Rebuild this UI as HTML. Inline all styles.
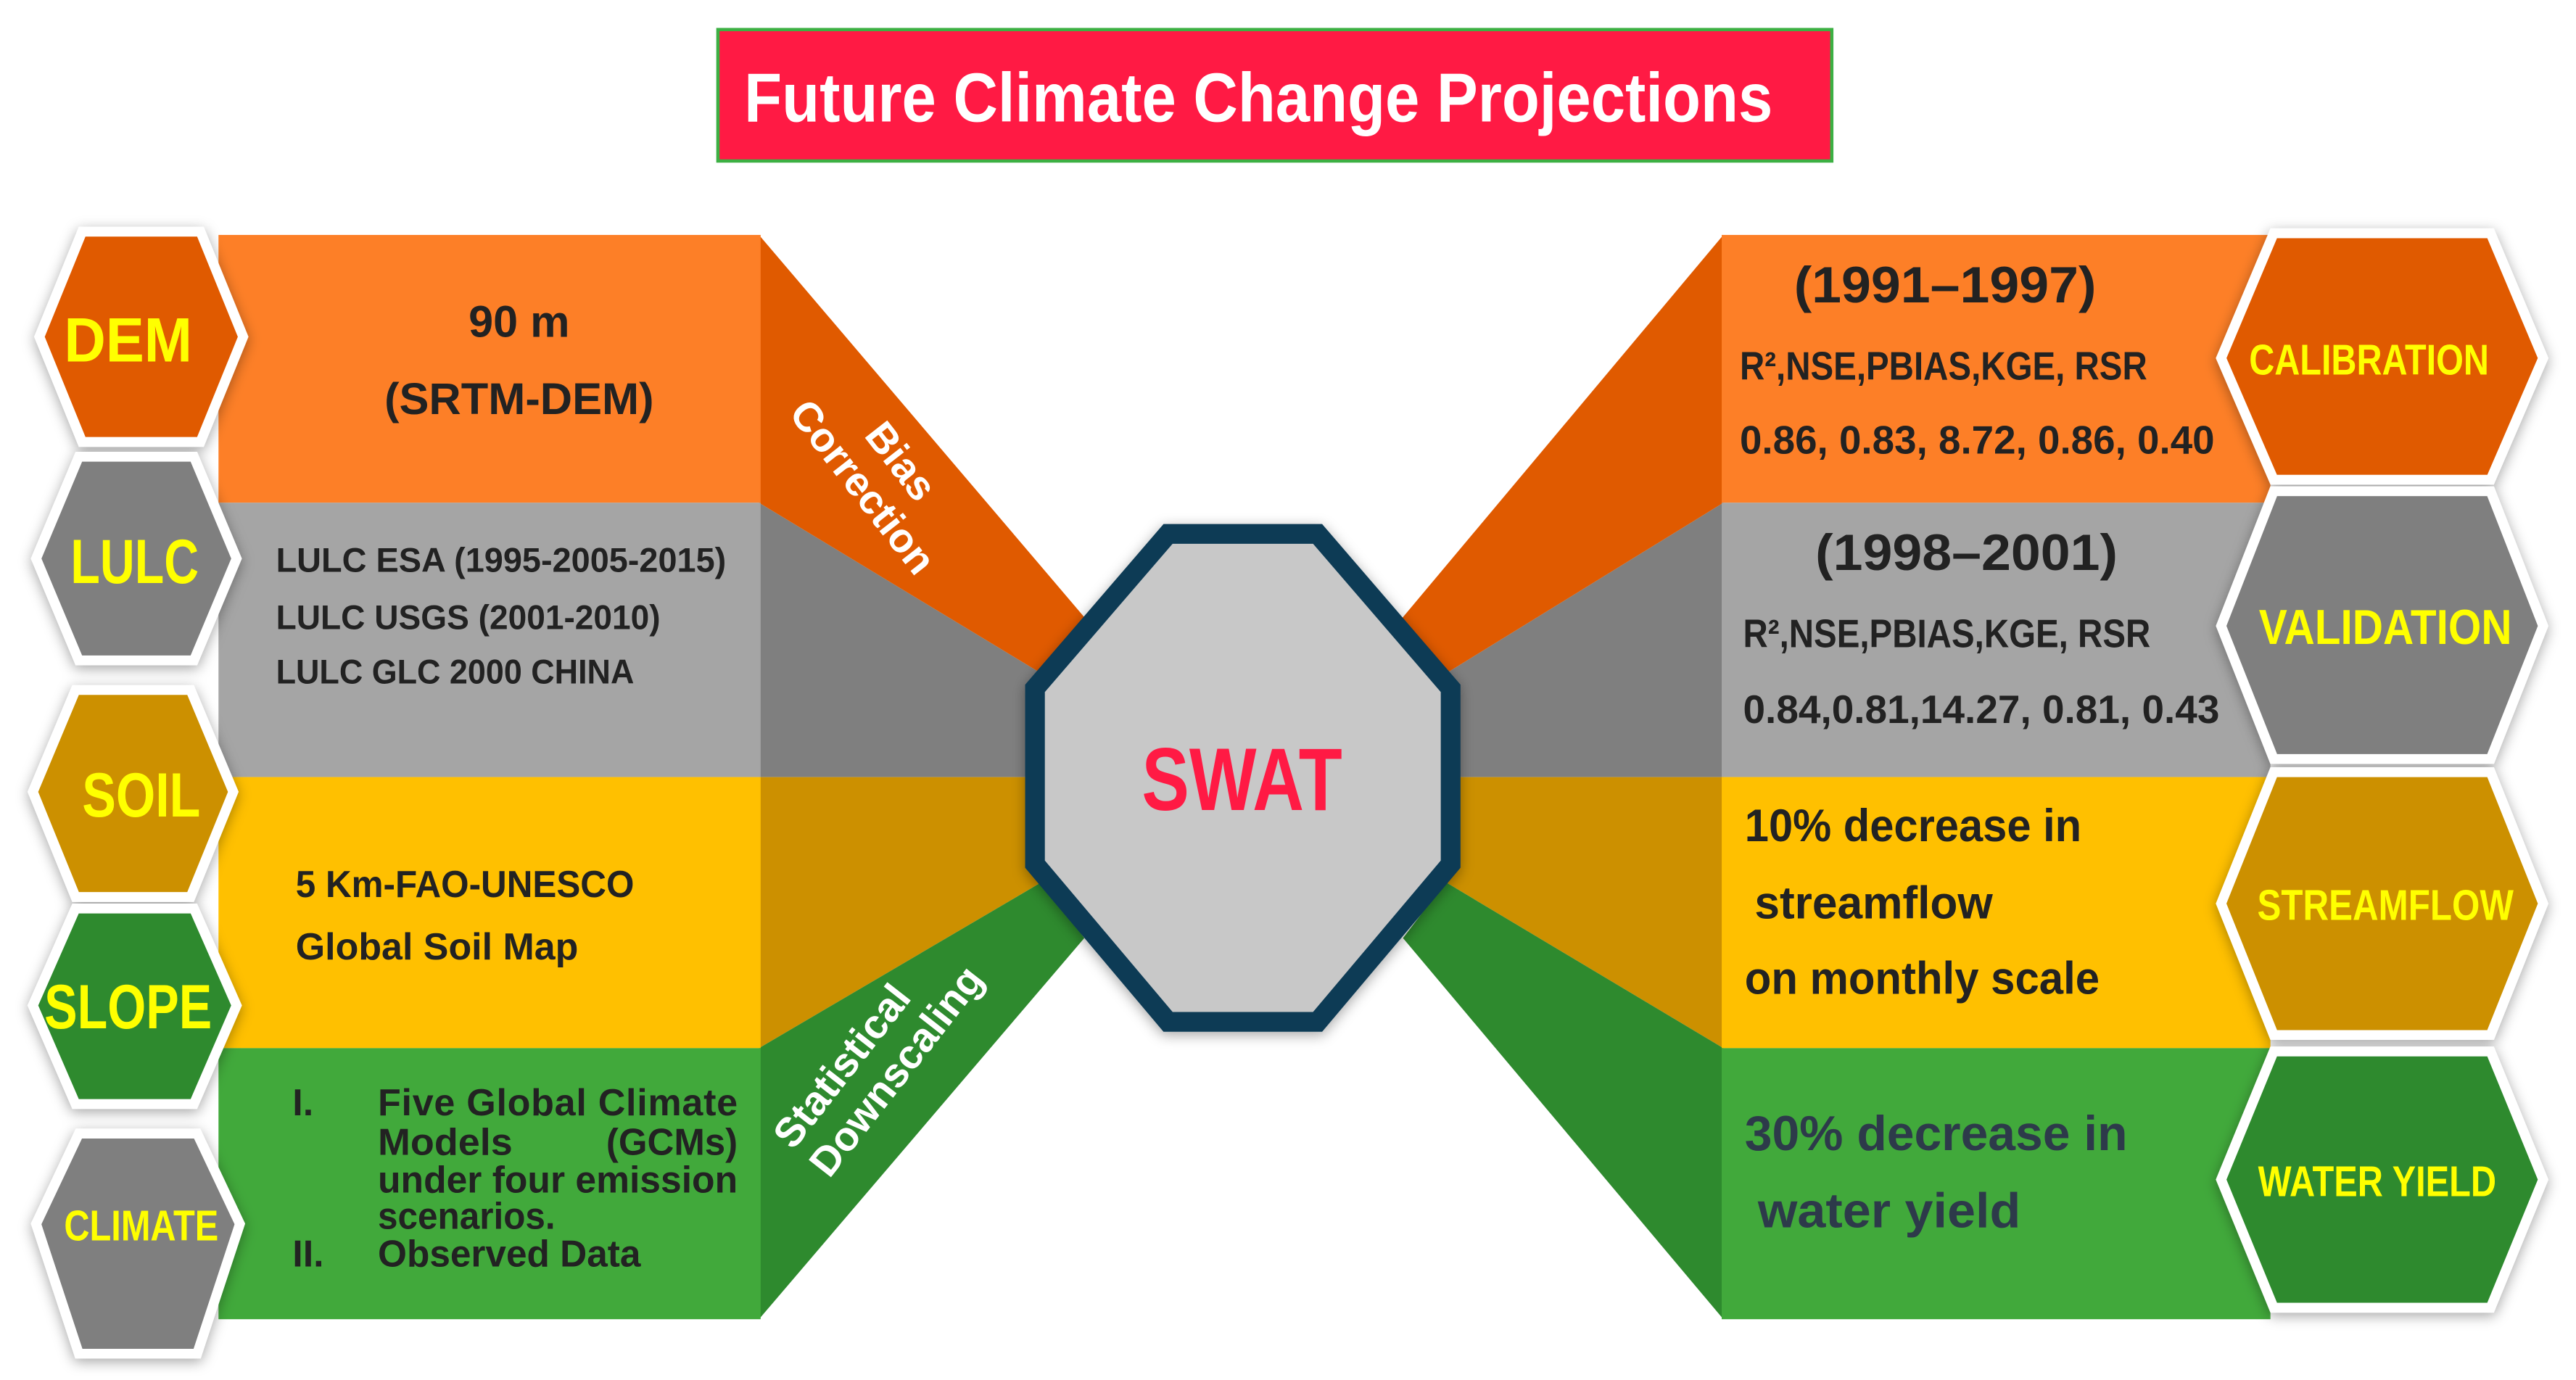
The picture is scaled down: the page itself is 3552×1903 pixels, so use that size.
<!DOCTYPE html>
<html><head><meta charset="utf-8"><style>
html,body{margin:0;padding:0;background:#fff;width:3552px;height:1903px;overflow:hidden}
svg{display:block}
text{font-family:"Liberation Sans Narrow","Liberation Sans",sans-serif;font-weight:bold}
</style></head><body>
<svg width="3552" height="1903" viewBox="0 0 1568 840" preserveAspectRatio="none">
<defs>
<filter id="sh" x="-20%" y="-20%" width="140%" height="140%"><feDropShadow dx="0" dy="2" stdDeviation="4" flood-color="#000" flood-opacity="0.35"/></filter>
</defs>
<g>
<rect x="437" y="18" width="678" height="80" fill="#ff1a44" stroke="#3cb043" stroke-width="2"/>
<text x="766" y="74" font-size="42" fill="#fff" text-anchor="middle" textLength="626" lengthAdjust="spacingAndGlyphs">Future Climate Change Projections</text>
</g>
<g>
<polygon points="462,306 634,410 640,473 462,473" fill="#7f7f7f"/>
<polygon points="462,143 662,378 634,410 462,306" fill="#e05a00"/>
<polygon points="462,473 640,473 634,537 462,638" fill="#cc9000"/>
<polygon points="462,638 634,537 660,571 462,803" fill="#2e8a2e"/>
</g>
<g>
<polygon points="1049,306 880,410 874,473 1049,473" fill="#7f7f7f"/>
<polygon points="1049,143 852,378 880,410 1049,306" fill="#e05a00"/>
<polygon points="1049,473 874,473 880,537 1049,638" fill="#cc9000"/>
<polygon points="1049,638 880,537 854,571 1049,803" fill="#2e8a2e"/>
</g>
<g>
<rect x="133" y="143" width="330" height="163" fill="#fd7f27"/>
<rect x="133" y="306" width="330" height="167" fill="#a5a5a5"/>
<rect x="133" y="473" width="330" height="165" fill="#ffc000"/>
<rect x="133" y="638" width="330" height="165" fill="#41a93b"/>
</g>
<g>
<rect x="1048" y="143" width="334" height="163" fill="#fd7f27"/>
<rect x="1048" y="306" width="334" height="167" fill="#a5a5a5"/>
<rect x="1048" y="473" width="334" height="165" fill="#ffc000"/>
<rect x="1048" y="638" width="334" height="165" fill="#41a93b"/>
</g>
<text font-size="25" fill="#fff" transform="rotate(52 540 300)"><tspan x="530" y="290" text-anchor="middle">Bias</tspan><tspan x="528" y="318" text-anchor="middle">Correction</tspan></text>
<text font-size="25" fill="#fff" transform="rotate(-52 535 650)"><tspan x="522" y="640" text-anchor="middle">Statistical</tspan><tspan x="540" y="668" text-anchor="middle">Downscaling</tspan></text>
<g filter="url(#sh)">
<polygon points="711,325 802,325 883,419 883,526 802,622 711,622 630,526 630,419" fill="#c8c8c8" stroke="#0c3a55" stroke-width="12" stroke-linejoin="miter"/>
</g>
<text x="756" y="493" font-size="54" fill="#ff1a44" text-anchor="middle" textLength="122" lengthAdjust="spacingAndGlyphs">SWAT</text>
<g fill="#222" font-size="27">
<text x="316" y="205" text-anchor="middle">90 m</text>
<text x="316" y="252" text-anchor="middle" textLength="164" lengthAdjust="spacingAndGlyphs">(SRTM-DEM)</text>
</g>
<g fill="#222" font-size="21">
<text x="168" y="348" textLength="274" lengthAdjust="spacingAndGlyphs">LULC ESA (1995-2005-2015)</text>
<text x="168" y="383" textLength="234" lengthAdjust="spacingAndGlyphs">LULC USGS (2001-2010)</text>
<text x="168" y="416" textLength="218" lengthAdjust="spacingAndGlyphs">LULC GLC 2000 CHINA</text>
</g>
<g fill="#222" font-size="23">
<text x="180" y="546" textLength="206" lengthAdjust="spacingAndGlyphs">5 Km-FAO-UNESCO</text>
<text x="180" y="584" textLength="172" lengthAdjust="spacingAndGlyphs">Global Soil Map</text>
</g>
<g fill="#222" font-size="23">
<text x="178" y="679">I.</text><text x="230" y="679" textLength="219" lengthAdjust="spacing">Five Global Climate</text>
<text x="230" y="703" textLength="82" lengthAdjust="spacingAndGlyphs">Models</text><text x="449" y="703" text-anchor="end" textLength="80" lengthAdjust="spacingAndGlyphs">(GCMs)</text>
<text x="230" y="726" textLength="219" lengthAdjust="spacingAndGlyphs">under four emission</text>
<text x="230" y="748" textLength="108" lengthAdjust="spacingAndGlyphs">scenarios.</text>
<text x="178" y="771">II.</text><text x="230" y="771" textLength="160" lengthAdjust="spacingAndGlyphs">Observed Data</text>
</g>
<g fill="#222">
<text x="1092" y="184" font-size="31" textLength="184" lengthAdjust="spacingAndGlyphs">(1991–1997)</text>
<text x="1059" y="231" font-size="24" textLength="248" lengthAdjust="spacingAndGlyphs">R²,NSE,PBIAS,KGE, RSR</text>
<text x="1059" y="276" font-size="24" textLength="289" lengthAdjust="spacingAndGlyphs">0.86, 0.83, 8.72, 0.86, 0.40</text>
</g>
<g fill="#222">
<text x="1105" y="347" font-size="31" textLength="184" lengthAdjust="spacingAndGlyphs">(1998–2001)</text>
<text x="1061" y="394" font-size="24" textLength="248" lengthAdjust="spacingAndGlyphs">R²,NSE,PBIAS,KGE, RSR</text>
<text x="1061" y="440" font-size="24" textLength="290" lengthAdjust="spacingAndGlyphs">0.84,0.81,14.27, 0.81, 0.43</text>
</g>
<g fill="#222" font-size="28">
<text x="1062" y="512" textLength="205" lengthAdjust="spacingAndGlyphs">10% decrease in</text>
<text x="1068" y="559" textLength="145" lengthAdjust="spacingAndGlyphs">streamflow</text>
<text x="1062" y="605" textLength="216" lengthAdjust="spacingAndGlyphs">on monthly scale</text>
</g>
<g fill="#2d3a4a" font-size="30">
<text x="1062" y="700" textLength="233" lengthAdjust="spacingAndGlyphs">30% decrease in</text>
<text x="1070" y="747" textLength="160" lengthAdjust="spacingAndGlyphs">water yield</text>
</g>
<g filter="url(#sh)">
<g><polygon points="24,205 50,141 122,141 148,205 122,269 50,269" fill="#e05a00" stroke="#fff" stroke-width="6"/><text x="78" y="220" font-size="38" fill="#ffff00" text-anchor="middle" textLength="78" lengthAdjust="spacingAndGlyphs">DEM</text></g>
<g><polygon points="22,340 48,278 118,278 144,340 118,402 48,402" fill="#7f7f7f" stroke="#fff" stroke-width="6"/><text x="82" y="355" font-size="38" fill="#ffff00" text-anchor="middle" textLength="78" lengthAdjust="spacingAndGlyphs">LULC</text></g>
<g><polygon points="20,482 46,420 116,420 142,482 116,546 46,546" fill="#cc9000" stroke="#fff" stroke-width="6"/><text x="86" y="497" font-size="38" fill="#ffff00" text-anchor="middle" textLength="72" lengthAdjust="spacingAndGlyphs">SOIL</text></g>
<g><polygon points="20,612 46,553 118,553 144,612 118,672 46,672" fill="#2e8a2e" stroke="#fff" stroke-width="6"/><text x="78" y="626" font-size="38" fill="#ffff00" text-anchor="middle" textLength="102" lengthAdjust="spacingAndGlyphs">SLOPE</text></g>
<g><polygon points="22,745 48,690 120,690 146,745 120,824 48,824" fill="#7f7f7f" stroke="#fff" stroke-width="6"/><text x="86" y="755" font-size="26" fill="#ffff00" text-anchor="middle" textLength="94" lengthAdjust="spacingAndGlyphs">CLIMATE</text></g>
</g>
<g filter="url(#sh)">
<g><polygon points="1352,218 1384,142 1516,142 1548,218 1516,292 1384,292" fill="#e05a00" stroke="#fff" stroke-width="6"/><text x="1442" y="228" font-size="26" fill="#ffff00" text-anchor="middle" textLength="146" lengthAdjust="spacingAndGlyphs">CALIBRATION</text></g>
<g><polygon points="1352,381 1384,299 1516,299 1548,381 1516,462 1384,462" fill="#7f7f7f" stroke="#fff" stroke-width="6"/><text x="1452" y="392" font-size="30" fill="#ffff00" text-anchor="middle" textLength="154" lengthAdjust="spacingAndGlyphs">VALIDATION</text></g>
<g><polygon points="1352,550 1384,470 1516,470 1548,550 1516,630 1384,630" fill="#cc9000" stroke="#fff" stroke-width="6"/><text x="1452" y="560" font-size="26" fill="#ffff00" text-anchor="middle" textLength="156" lengthAdjust="spacingAndGlyphs">STREAMFLOW</text></g>
<g><polygon points="1352,718 1384,640 1516,640 1548,718 1516,796 1384,796" fill="#2e8a2e" stroke="#fff" stroke-width="6"/><text x="1447" y="728" font-size="26" fill="#ffff00" text-anchor="middle" textLength="145" lengthAdjust="spacingAndGlyphs">WATER YIELD</text></g>
</g>
</svg>
</body></html>
